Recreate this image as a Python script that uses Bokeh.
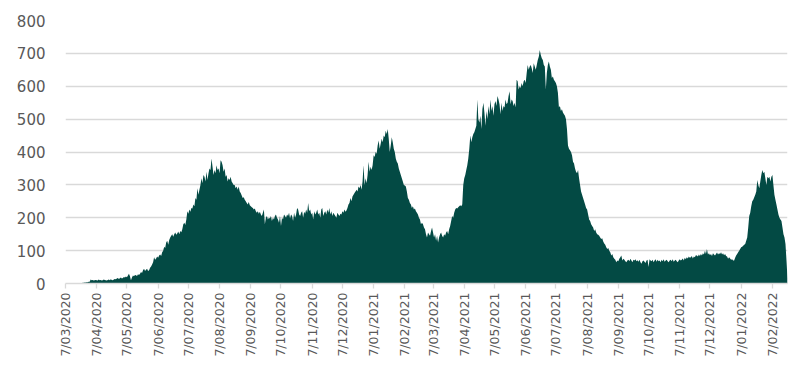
import datetime as dt
import numpy as np
from bokeh.plotting import figure
from bokeh.models import Range1d, FixedTicker
from bokeh.embed import file_html
from bokeh.resources import INLINE

start_date = dt.date(2020, 3, 7)

daily_values = [
    0, 0, 0, 0, 0, 0, 0, 0, 0, 0,
    0, 0, 0, 0, 0, 0, 1, 2, 2, 3,
    3, 4, 4, 5, 5, 12, 10, 11, 9, 10,
    11, 10, 9, 12, 10, 11, 9, 10, 12, 11,
    10, 9, 11, 12, 10, 13, 11, 10, 12, 14,
    13, 15, 17, 14, 16, 18, 15, 17, 20, 18,
    21, 19, 24, 30, 22, 10, 18, 24, 22, 26,
    25, 23, 28, 26, 30, 35, 32, 40, 45, 38,
    42, 45, 38, 40, 48, 52, 58, 65, 80, 72,
    76, 82, 78, 85, 88, 84, 95, 100, 112, 108,
    125, 130, 118, 132, 140, 145, 150, 142, 150, 155,
    148, 152, 158, 150, 160, 156, 165, 180, 185, 178,
    195, 220, 212, 225, 218, 230, 228, 240, 235, 260,
    255, 290, 270, 285, 300, 320, 305, 330, 325, 310,
    340, 315, 335, 350, 345, 380, 355, 330, 345, 335,
    360, 345, 350, 335, 375, 370, 360, 340, 350, 325,
    330, 310, 320, 315, 325, 310, 305, 300, 300, 290,
    295, 285, 295, 280, 275, 268, 260, 262, 255, 250,
    245, 240, 248, 238, 235, 232, 230, 225, 228, 220,
    215, 220, 212, 218, 210, 205, 215, 225, 180, 200,
    205, 195, 200, 198, 205, 190, 200, 195, 205, 210,
    200, 195, 185, 205, 175, 200, 195, 210, 205, 200,
    210, 205, 215, 198, 210, 205, 190, 215, 200, 210,
    230, 225, 210, 205, 215, 220, 200, 218, 212, 225,
    215, 245, 220, 225, 210, 215, 195, 220, 210, 215,
    225, 210, 215, 200, 225, 230, 205, 215, 220, 210,
    225, 215, 230, 210, 220, 205, 215, 210, 205, 200,
    215, 210, 205, 212, 210, 220, 215, 225, 218, 222,
    230, 240, 245, 260, 250, 265, 270, 275, 280, 285,
    280, 295, 290, 300, 285, 310, 360, 300, 320, 305,
    330, 370, 340, 355, 345, 360, 390, 385, 400, 395,
    420, 435, 410, 425, 440, 430, 450, 445, 465, 455,
    470, 440, 400, 420, 445, 430, 410, 400, 380, 370,
    365, 350, 340, 330, 320, 310, 300, 298, 295, 280,
    260, 255, 245, 240, 230, 235, 225, 228, 220, 215,
    210, 200, 195, 180, 185, 180, 170, 165, 150, 140,
    155, 150, 145, 160, 170, 155, 140, 150, 130, 145,
    125, 140, 150, 155, 145, 140, 150, 145, 155, 160,
    150, 165, 175, 190, 205, 200, 215, 225, 230, 228,
    232, 235, 238, 235, 240, 300, 320, 330, 345, 360,
    380, 410, 450, 430, 445, 455, 460, 470, 480, 560,
    500, 490, 510, 470, 530, 550, 520, 480, 525, 500,
    540, 515, 560, 525, 540, 510, 545, 555, 540, 570,
    560, 545, 515, 550, 525, 540, 535, 560, 545, 550,
    570, 585, 545, 560, 555, 540, 550, 535, 620, 615,
    590, 600, 595, 610, 600, 615, 620, 610, 640, 665,
    650, 660, 665, 655, 640, 670, 660, 650, 665, 680,
    690, 710, 695, 685, 680, 665, 660, 590, 640, 665,
    675, 660, 650, 625, 630, 620, 615, 610, 600, 580,
    535, 540, 525, 530, 520, 515, 510, 500, 470, 420,
    410, 405, 400, 390, 370, 365, 350, 340, 335, 345,
    320, 300, 280, 270, 260, 250, 240, 230, 225, 210,
    195, 190, 180, 175, 170, 160, 165, 155, 150, 148,
    145, 140, 135, 138, 128, 122, 118, 110, 105, 108,
    100, 95, 85, 90, 80, 75, 72, 65, 70, 68,
    75, 80, 85, 70, 75, 72, 68, 65, 70, 72,
    68, 75, 70, 65, 72, 70, 74, 68, 71, 66,
    72, 65, 60, 68, 70, 66, 62, 70, 72, 50,
    74, 70, 68, 72, 65, 70, 74, 66, 72, 68,
    70, 65, 72, 68, 74, 66, 70, 72, 68, 65,
    70, 72, 68, 74, 66, 70, 72, 68, 65, 70,
    74, 70, 72, 76, 70, 78, 74, 80, 76, 82,
    78, 80, 84, 76, 82, 80, 86, 85, 82, 88,
    84, 90, 85, 92, 88, 100, 90, 105, 88, 92,
    86, 90, 84, 92, 88, 85, 90, 94, 88, 92,
    90, 95, 88, 92, 86, 90, 84, 82, 75, 80,
    76, 72, 74, 70, 70, 78, 85, 90, 95, 100,
    105, 110, 112, 115, 118, 120, 130, 140, 170, 205,
    215, 235, 250, 255, 262, 270, 280, 315, 300, 290,
    310, 330, 345, 335, 340, 320, 300, 325, 320, 325,
    310, 325, 330, 300, 270, 255, 240, 225, 210, 200,
    195, 190, 170, 150, 140, 120, 70, 15,
]

tick_labels = [
    "7/03/2020", "7/04/2020", "7/05/2020", "7/06/2020", "7/07/2020",
    "7/08/2020", "7/09/2020", "7/10/2020", "7/11/2020", "7/12/2020",
    "7/01/2021", "7/02/2021", "7/03/2021", "7/04/2021", "7/05/2021",
    "7/06/2021", "7/07/2021", "7/08/2021", "7/09/2021", "7/10/2021",
    "7/11/2021", "7/12/2021", "7/01/2022", "7/02/2022",
]

y_ticks = [0, 100, 200, 300, 400, 500, 600, 700, 800]

days = list(range(len(daily_values)))


def day_index(label):
    d, m, y = (int(s) for s in label.split("/"))
    return (dt.date(y, m, d) - start_date).days


tick_pos = [day_index(t) for t in tick_labels]

p = figure(
    width=796, height=359,
    x_range=Range1d(0, len(daily_values) - 1),
    y_range=Range1d(0, 800),
    output_backend="svg", toolbar_location=None,
    min_border_left=65, min_border_right=9,
    min_border_top=20, min_border_bottom=72,
)
p.outline_line_color = None
p.background_fill_color = "white"
p.border_fill_color = "white"

p.varea(x=days, y1=0, y2=daily_values, fill_color="#034A44")

p.xgrid.visible = False
p.ygrid.ticker = FixedTicker(ticks=y_ticks)
p.ygrid.grid_line_color = "#D9D9D9"
p.ygrid.grid_line_width = 1.3

ya = p.yaxis[0]
ya.ticker = FixedTicker(ticks=y_ticks)
ya.axis_line_color = None
ya.major_tick_line_color = None
ya.minor_tick_line_color = None
ya.major_tick_out = 0
ya.major_tick_in = 0
ya.major_label_standoff = 20
ya.major_label_text_font = "DejaVu Sans"
ya.major_label_text_font_size = "15px"
ya.major_label_text_color = "#595959"

xa = p.xaxis[0]
xa.ticker = FixedTicker(ticks=tick_pos)
xa.major_label_overrides = {pos: lab for pos, lab in zip(tick_pos, tick_labels)}
xa.major_label_orientation = np.pi / 2
xa.axis_line_color = "#D9D9D9"
xa.axis_line_width = 1.3
xa.major_tick_line_color = "#D9D9D9"
xa.major_tick_line_width = 1.3
xa.major_tick_out = 5
xa.major_tick_in = 0
xa.minor_tick_line_color = None
xa.major_label_standoff = 4
xa.major_label_text_font = "DejaVu Sans"
xa.major_label_text_font_size = "12.5px"
xa.major_label_text_color = "#595959"

open("out.html", "w").write(file_html(p, INLINE))
